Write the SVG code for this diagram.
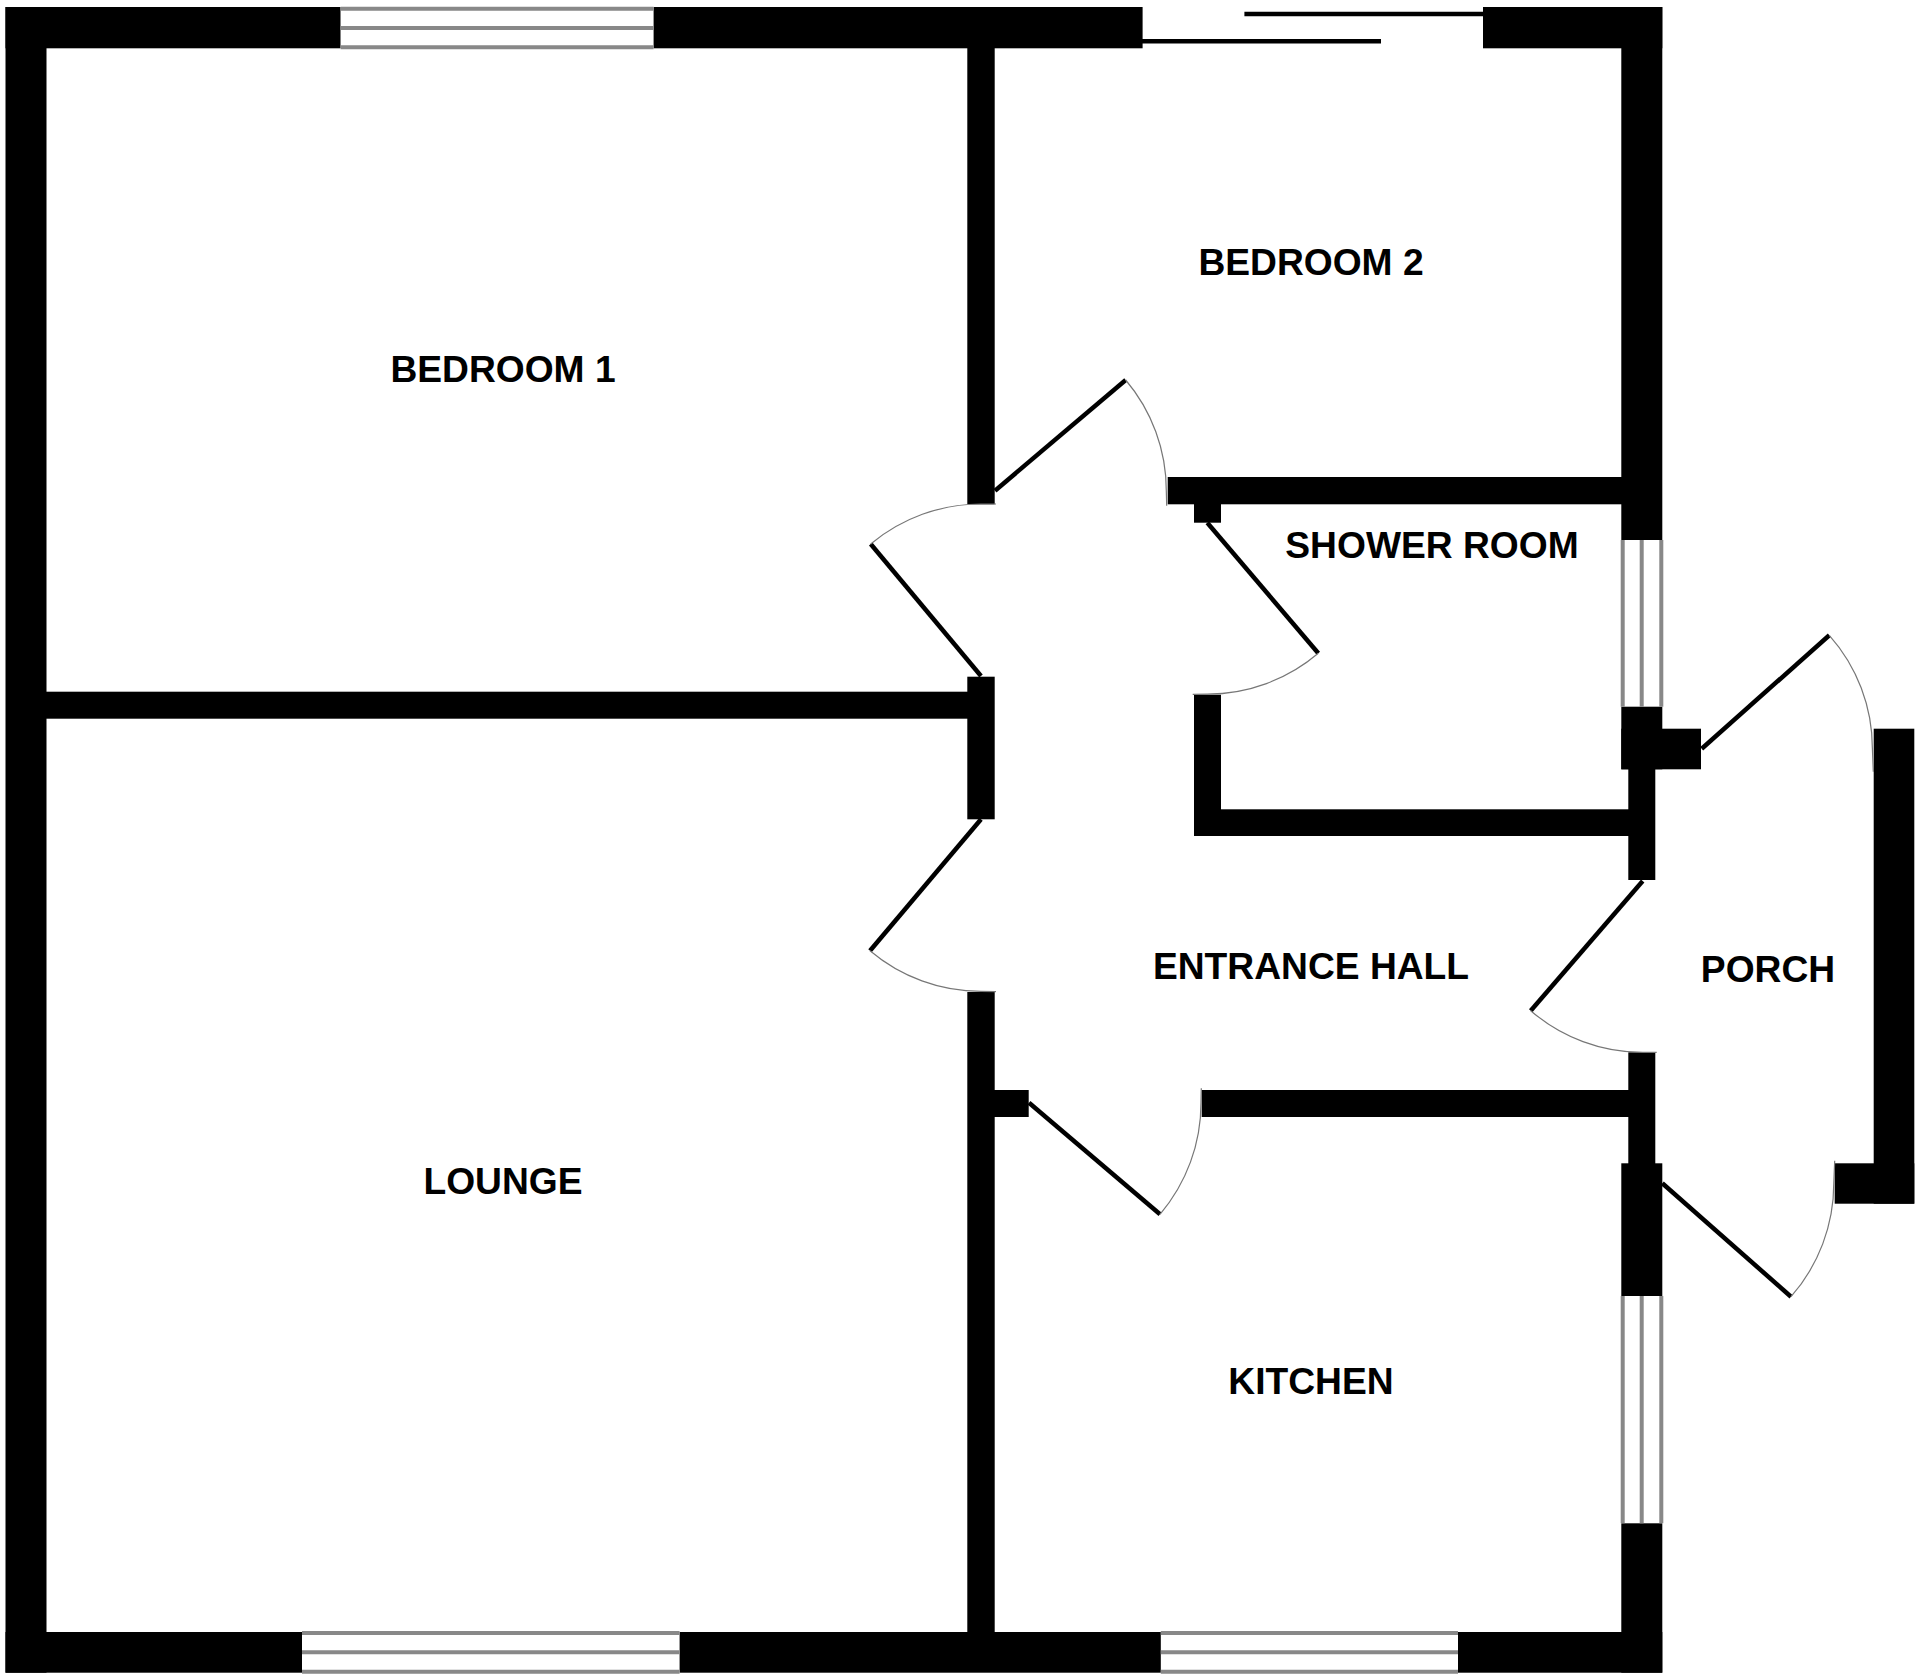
<svg xmlns="http://www.w3.org/2000/svg" width="1920" height="1680" viewBox="0 0 1920 1680">
<style>
.w{fill:#000}
.g{stroke:#888;stroke-width:4;fill:none}
.l{stroke:#000;stroke-width:4.5;fill:none}
.a{stroke:#777;stroke-width:1.2;fill:none}
text{font-family:"Liberation Sans",Arial,sans-serif;font-weight:700;font-size:37.2px;fill:#000;text-anchor:middle}
</style>
<rect width="1920" height="1680" fill="#fff"/>
<g id="walls" class="w">
<rect x="5.5" y="7" width="335" height="41.3"/>
<rect x="653.6" y="7" width="489" height="41.3"/>
<rect x="1483" y="7" width="179.3" height="41.3"/>
<rect x="5.5" y="7" width="41" height="1665.7"/>
<rect x="5.5" y="1632" width="296.5" height="40.7"/>
<rect x="679.6" y="1632" width="481.2" height="40.7"/>
<rect x="1458" y="1632" width="204.3" height="40.7"/>
<rect x="1621.3" y="7" width="41" height="533"/>
<rect x="1621.3" y="706.7" width="41" height="62.6"/>
<rect x="1621.3" y="728.7" width="79.7" height="40.6"/>
<rect x="1621.3" y="1163.3" width="41" height="132.7"/>
<rect x="1621.3" y="1523.3" width="41" height="149.4"/>
<rect x="967.3" y="7" width="27.4" height="497.3"/>
<rect x="967.3" y="676.7" width="27.4" height="142.6"/>
<rect x="967.3" y="992" width="27.4" height="680"/>
<rect x="46" y="691.7" width="925" height="27"/>
<rect x="1167.7" y="477" width="460" height="27.3"/>
<rect x="1194" y="477" width="27" height="45.7"/>
<rect x="1194" y="694.7" width="27" height="141.3"/>
<rect x="1194" y="809.3" width="440" height="26.7"/>
<rect x="1628.3" y="769" width="27" height="111"/>
<rect x="1628.3" y="1052.3" width="27" height="115"/>
<rect x="1201.7" y="1090" width="430" height="27"/>
<rect x="990" y="1090" width="38.7" height="27"/>
<rect x="1873.7" y="728.7" width="40.6" height="475"/>
<rect x="1834.7" y="1163.3" width="79.6" height="40.4"/>
</g>
<g id="windows" class="g">
<path d="M340.6 8.7H653.6M340.6 28H653.6M340.6 47.3H653.6"/>
<path d="M302 1633H679.6M302 1652.3H679.6M302 1671.7H679.6"/>
<path d="M1160.8 1633H1458M1160.8 1652.3H1458M1160.8 1671.7H1458"/>
<path d="M1622.7 540V706.7M1641.7 540V706.7M1661.3 540V706.7"/>
<path d="M1622.7 1296V1523.3M1641.7 1296V1523.3M1661.3 1296V1523.3"/>
</g>
<g id="doors">
<path class="l" d="M1142 41.3H1381M1244.4 14H1483"/>
<path class="l" d="M995 490.7L1125.7 380"/>
<path class="a" d="M1125.7 380A171.3 171.3 0 0 1 1166.3 490.7L1166.7 505.7"/>
<path class="l" d="M981 676L870.7 544"/>
<path class="a" d="M870.7 544A172 172 0 0 1 981 504L996 504"/>
<path class="l" d="M1207.3 522.7L1318.3 653.3"/>
<path class="a" d="M1318.3 653.3A171.4 171.4 0 0 1 1207.3 694.1L1192.7 694.3"/>
<path class="l" d="M981 819.3L870 950.7"/>
<path class="a" d="M870 950.7A172 172 0 0 0 981 991.3L996 991.7"/>
<path class="l" d="M1029 1102.7L1160 1214.3"/>
<path class="a" d="M1160 1214.3A172 172 0 0 0 1201 1102.7L1201.3 1088.3"/>
<path class="l" d="M1701.7 748.7L1829.3 635.3"/>
<path class="a" d="M1829.3 635.3A170.7 170.7 0 0 1 1872.4 748.7L1873.3 771.7"/>
<path class="l" d="M1662.3 1183.3L1791 1296.7"/>
<path class="a" d="M1791 1296.7A171.5 171.5 0 0 0 1833.8 1183.3L1834.7 1160.7"/>
<path class="l" d="M1642.7 881L1530.7 1010.7"/>
<path class="a" d="M1530.7 1010.7A171.4 171.4 0 0 0 1642.7 1052.4L1656.7 1052.3"/>
</g>
<g id="labels">
<text x="503" y="382">BEDROOM 1</text>
<text x="1311" y="275">BEDROOM 2</text>
<text x="1432" y="558">SHOWER ROOM</text>
<text x="1311" y="979">ENTRANCE HALL</text>
<text x="1768" y="982">PORCH</text>
<text x="503" y="1194">LOUNGE</text>
<text x="1311" y="1394">KITCHEN</text>
</g>
</svg>
